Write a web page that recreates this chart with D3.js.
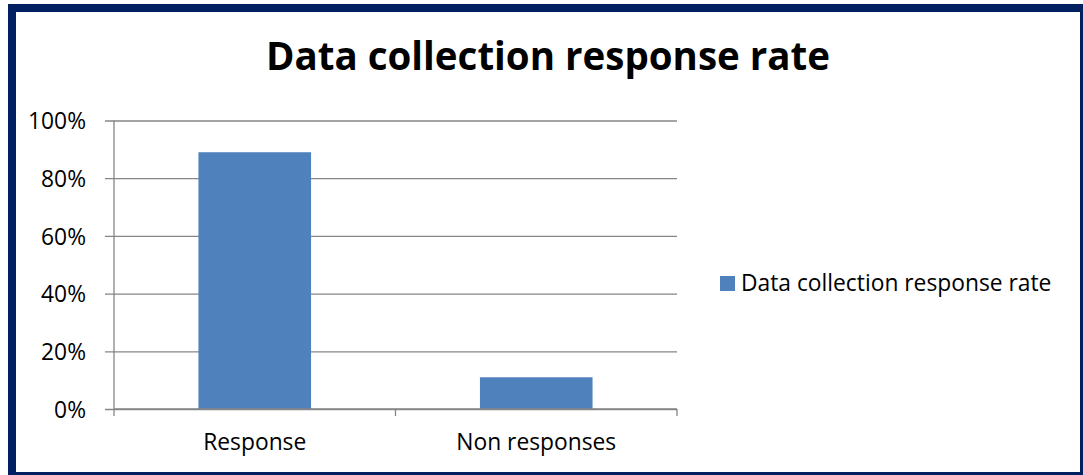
<!DOCTYPE html>
<html>
<head>
<meta charset="utf-8">
<script src="https://cdn.jsdelivr.net/npm/d3@7"></script>
<style>
  html, body { margin: 0; padding: 0; background: #fff; }
  svg { display: block; }
  text { font-family: "Open Sans", "Noto Sans", sans-serif; fill: #000; font-variant-ligatures: none; }
</style>
</head>
<body>
<svg id="chart" width="1083" height="475"></svg>
<script>
// Chart data
const title = "Data collection response rate";
const seriesName = "Data collection response rate";
const categories = ["Response", "Non responses"];
const values = [0.89, 0.11];
const yTicks = [0, 0.2, 0.4, 0.6, 0.8, 1.0];

const svg = d3.select("#chart");
const FONT = '"Open Sans", sans-serif';
const LABEL_SIZE = "22.8px";

// Frame
svg.append("rect")
  .attr("x", 12).attr("y", 8)
  .attr("width", 1072).attr("height", 468)
  .attr("fill", "#fff")
  .attr("stroke", "#002060")
  .attr("stroke-width", 8);

const plot = { left: 114, right: 677, top: 120.5, bottom: 409 };

const x = d3.scaleBand()
  .domain(categories)
  .range([plot.left, plot.right])
  .padding(0);

const y = d3.scaleLinear()
  .domain([0, 1])
  .range([plot.bottom, plot.top]);

const gridColor = "#868686";

// Horizontal gridlines with outside tick marks
const yAxis = d3.axisLeft(y)
  .tickValues(yTicks)
  .tickSize(-(plot.right - plot.left))
  .tickFormat(d3.format(".0%"));

const gy = svg.append("g")
  .attr("transform", `translate(${plot.left},0)`)
  .call(yAxis);
gy.select(".domain").remove();
gy.selectAll(".tick line")
  .attr("stroke", gridColor)
  .attr("stroke-width", 1.3)
  .attr("x1", -9);
gy.selectAll(".tick text")
  .attr("x", -28)
  .attr("dy", "0.36em")
  .style("font-size", LABEL_SIZE)
  .style("font-family", FONT);

// Vertical axis line
svg.append("line")
  .attr("x1", plot.left).attr("x2", plot.left)
  .attr("y1", plot.top).attr("y2", plot.bottom)
  .attr("stroke", gridColor).attr("stroke-width", 1.3);

// Bars
const barFrac = 0.4;
svg.append("g").selectAll("rect")
  .data(categories)
  .join("rect")
  .attr("x", (d) => x(d) + x.bandwidth() * (1 - barFrac) / 2)
  .attr("width", x.bandwidth() * barFrac)
  .attr("y", (d, i) => y(values[i]))
  .attr("height", (d, i) => plot.bottom - y(values[i]))
  .attr("fill", "#4f81bd");

// Category axis
const xAxis = d3.axisBottom(x).tickSize(0);
const gx = svg.append("g")
  .attr("transform", `translate(0,${plot.bottom})`)
  .call(xAxis);
gx.select(".domain")
  .attr("stroke", gridColor).attr("stroke-width", 1.3)
  .attr("d", `M${plot.left},0H${plot.right}`);
gx.selectAll(".tick text")
  .attr("y", 41)
  .attr("dy", 0)
  .style("font-size", LABEL_SIZE)
  .style("font-family", FONT);

// Category boundary tick marks
const bounds = categories.map((c) => x(c)).concat([x(categories[categories.length - 1]) + x.bandwidth()]);
gx.selectAll(".bound")
  .data(bounds)
  .join("line")
  .attr("class", "bound")
  .attr("x1", (d) => d).attr("x2", (d) => d)
  .attr("y1", 0).attr("y2", 7)
  .attr("stroke", gridColor).attr("stroke-width", 1.3);

// Title
svg.append("text")
  .attr("x", 548).attr("y", 70)
  .attr("text-anchor", "middle")
  .style("font-size", "38.5px")
  .style("font-weight", "bold")
  .text(title);

// Legend
const lg = svg.append("g").attr("transform", "translate(720,276)");
lg.append("rect").attr("width", 15).attr("height", 15).attr("fill", "#4f81bd");
lg.append("text")
  .attr("x", 21).attr("y", 15)
  .style("font-size", LABEL_SIZE)
  .text(seriesName);
</script>
</body>
</html>
